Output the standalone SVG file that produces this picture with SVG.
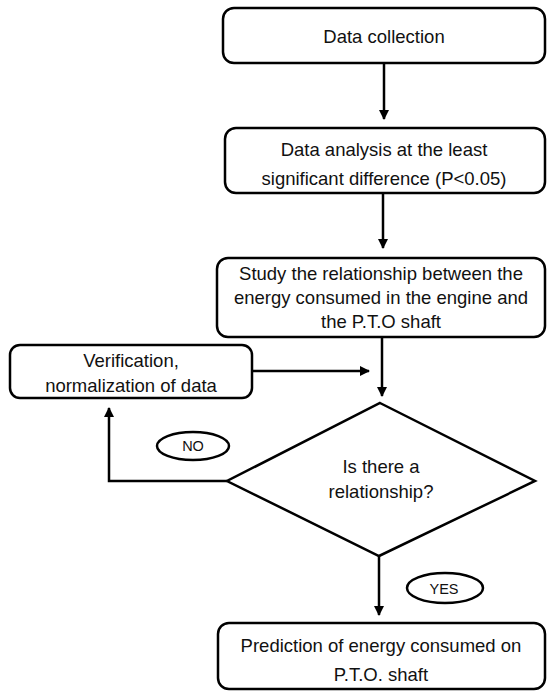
<svg xmlns="http://www.w3.org/2000/svg" width="547" height="693" viewBox="0 0 547 693">
<defs>
<style>
.box{fill:#fff;stroke:#000;stroke-width:2.5}
.ln{fill:none;stroke:#000;stroke-width:2.5}
text{font-family:"Liberation Sans",Arial,sans-serif;font-size:18.5px;fill:#111;text-anchor:middle}
.sm{font-size:14.5px}
</style>
<marker id="ah" viewBox="0 0 10 10" refX="9" refY="5" markerWidth="4" markerHeight="4" orient="auto" markerUnits="strokeWidth">
<path d="M0,0 L10,5 L0,10 z" fill="#000"/>
</marker>
</defs>
<rect width="547" height="693" fill="#fff"/>
<g id="connectors">
<line class="ln" x1="384" y1="63" x2="384" y2="119" marker-end="url(#ah)"/>
<line class="ln" x1="383" y1="193" x2="383" y2="248" marker-end="url(#ah)"/>
<line class="ln" x1="382" y1="337" x2="382" y2="396" marker-end="url(#ah)"/>
<line class="ln" x1="252" y1="371" x2="369" y2="371" marker-end="url(#ah)"/>
<polyline class="ln" points="227,481 109,481 109,408" marker-end="url(#ah)"/>
<line class="ln" x1="379" y1="556" x2="379" y2="615" marker-end="url(#ah)"/>
</g>
<g id="n1">
<rect class="box" x="223" y="8" width="322" height="55" rx="11"/>
<text x="384" y="43">Data collection</text>
</g>
<g id="n2">
<rect class="box" x="225" y="128" width="320" height="65" rx="11"/>
<text x="384" y="156">Data analysis at the least</text>
<text x="384" y="185">significant difference (P&lt;0.05)</text>
</g>
<g id="n3">
<rect class="box" x="217" y="258" width="328" height="79" rx="11"/>
<text x="381" y="280">Study the relationship between the</text>
<text x="381" y="304">energy consumed in the engine and</text>
<text x="381" y="328">the P.T.O shaft</text>
</g>
<g id="n4">
<rect class="box" x="10" y="345" width="242" height="53" rx="10"/>
<text x="131" y="367">Verification,</text>
<text x="131" y="392">normalization of data</text>
</g>
<g id="n5">
<polygon class="box" points="380,403 535,481 379,556 227,481"/>
<text x="381" y="473">Is there a</text>
<text x="381" y="498">relationship?</text>
</g>
<g id="no">
<ellipse class="box" cx="193" cy="446" rx="36" ry="14" stroke-width="2"/>
<text class="sm" x="193" y="451">NO</text>
</g>
<g id="yes">
<ellipse class="box" cx="445" cy="588" rx="38" ry="15" stroke-width="2"/>
<text class="sm" x="444" y="594">YES</text>
</g>
<g id="n6">
<rect class="box" x="218" y="623" width="327" height="66" rx="11"/>
<text x="381" y="652">Prediction of energy consumed on</text>
<text x="381" y="681">P.T.O. shaft</text>
</g>
</svg>
